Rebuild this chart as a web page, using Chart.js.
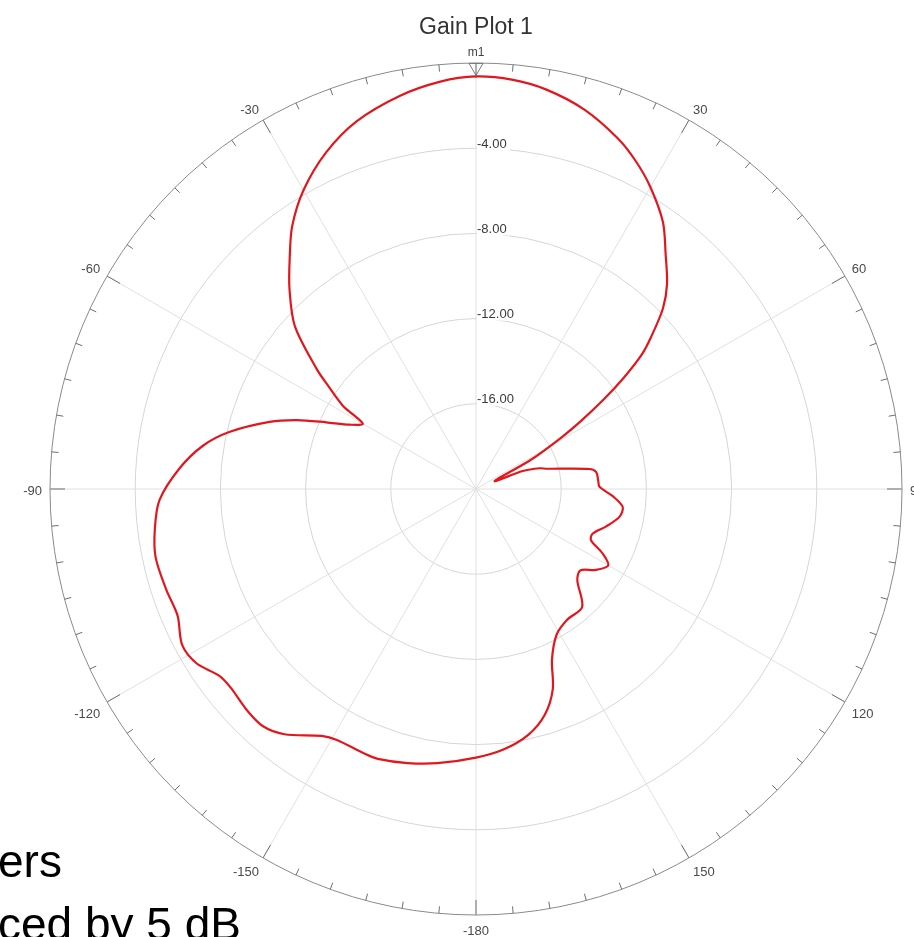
<!DOCTYPE html>
<html><head><meta charset="utf-8">
<script src="https://cdn.jsdelivr.net/npm/chart.js@4.4.1/dist/chart.umd.min.js"></script>
<style>
html,body{margin:0;padding:0;background:#fff;overflow:hidden;}
#wrap{position:relative;width:914px;height:937px;}
#c{display:block;}
.slide{position:absolute;left:-2px;font-family:"Liberation Sans",Arial,sans-serif;font-size:46px;line-height:46px;color:#000;white-space:nowrap;}
</style></head><body>
<div id="wrap"><canvas id="c"></canvas>
<div class="slide" style="top:838px">ers</div>
<div class="slide" style="top:901px">ced by 5 dB</div>
</div>
<script>
// Angle (degrees, clockwise from top) and gain (dB)
const angleDeg = [0,5,10,16,22,26,30,35,39,43,46,49,51,53,55,57,59,62,67,69,72,74,80,82,86,89,93,97,101,106,111,114,117,120,124,128,132,138,145,151,156,159,163,168,174,180,188,194,200,203,209,212,218,222,226,231,234,238,242,247,252,258,263,268,274,279,283,288,291,294,297,300,302,305,307,312,317,321,325,330,336,342,349,355];
const gainDb   = [-0.63,-0.71,-0.96,-1.48,-2.24,-2.88,-3.63,-4.7,-5.85,-6.85,-7.8,-9.1,-10.0,-11.3,-12.7,-14.1,-15.4,-17.1,-19.05,-17.65,-16.85,-16.55,-14.6,-14.3,-14.25,-14.2,-13.57,-13.06,-13.14,-13.64,-14.14,-14.09,-13.33,-12.83,-13.21,-13.79,-13.6,-12.55,-12.52,-12.19,-11.23,-9.94,-8.93,-8.2,-7.7,-7.39,-7.0,-6.74,-6.52,-6.52,-6.53,-6.33,-5.39,-5.03,-5.05,-5.18,-5.09,-4.54,-4.38,-4.78,-4.71,-4.62,-4.81,-5.13,-6.05,-7.02,-8.11,-9.81,-10.98,-12.3,-13.35,-13.86,-12.64,-11.5,-10.63,-8.55,-7.16,-6.1,-4.95,-3.8,-2.7,-1.85,-1.2,-0.8];
const radialTickValues = [-16,-12,-8,-4];
const angleTickLabels = [30,60,90,120,150,-180,-150,-120,-90,-60,-30];
const chartTitle = 'Gain Plot 1';
const markerName = 'm1';
const markerIndex = 0;

const categories = Array.from({length:360}, (_, i) => i);
const series = new Array(360).fill(null);
angleDeg.forEach((a, k) => { series[a] = gainDb[k]; });

const FONT = '"Liberation Sans", Arial, Helvetica, sans-serif';

const polarDecor = {
  id: 'polarDecor',
  beforeDatasetsDraw(chart) {
    const s = chart.scales.r, ctx = chart.ctx, R = s.drawingArea;
    ctx.save();
    ctx.strokeStyle = '#6e6e6e'; ctx.lineWidth = 1;
    for (let i = 0; i < 360; i += 5) {
      const len = (i % 30 === 0) ? 15 : 7;
      const p1 = s.getPointPosition(i, R), p2 = s.getPointPosition(i, R - len);
      ctx.beginPath(); ctx.moveTo(p1.x, p1.y); ctx.lineTo(p2.x, p2.y); ctx.stroke();
    }
    ctx.font = '13px ' + FONT;
    ctx.textBaseline = 'middle'; ctx.textAlign = 'left';
    radialTickValues.forEach(v => {
      const y = s.yCenter - s.getDistanceFromCenterForValue(v) - 4;
      const txt = v.toFixed(2);
      const w = ctx.measureText(txt).width;
      ctx.fillStyle = '#fff'; ctx.fillRect(s.xCenter + 1, y - 6, w + 3, 12);
      ctx.fillStyle = '#3a3a3a'; ctx.fillText(txt, s.xCenter + 1, y);
    });
    ctx.fillStyle = '#4a4a4a';
    angleTickLabels.forEach(v => {
      const i = (v + 360) % 360;
      const p = s.getPointPosition(i, R + 8);
      const a = i * Math.PI / 180, sn = Math.sin(a), cs = Math.cos(a);
      ctx.textAlign = Math.abs(sn) < 0.01 ? 'center' : (sn > 0 ? 'left' : 'right');
      ctx.textBaseline = 'middle';
      const dy = cs < -0.01 ? 8 : (cs > 0.01 ? -3 : 2);
      ctx.fillText(String(v), p.x, p.y + dy);
    });
    ctx.restore();
  },
  afterDatasetsDraw(chart) {
    const ctx = chart.ctx, s = chart.scales.r;
    const pt = chart.getDatasetMeta(0).data[markerIndex];
    ctx.save();
    ctx.strokeStyle = '#777'; ctx.lineWidth = 1;
    ctx.beginPath();
    ctx.moveTo(pt.x, pt.y - 1);
    ctx.lineTo(pt.x - 7, pt.y - 13);
    ctx.lineTo(pt.x + 7, pt.y - 13);
    ctx.closePath(); ctx.stroke();
    ctx.fillStyle = '#444';
    ctx.font = '12px ' + FONT;
    ctx.textAlign = 'center'; ctx.textBaseline = 'middle';
    ctx.fillText(markerName, pt.x, s.yCenter - s.drawingArea - 10);
    ctx.restore();
  }
};

new Chart(document.getElementById('c'), {
  type: 'radar',
  data: {
    labels: categories,
    datasets: [{
      data: series,
      borderColor: '#e3161c',
      borderWidth: 2.2,
      backgroundColor: 'rgba(0,0,0,0)',
      fill: false,
      pointRadius: 0,
      pointHoverRadius: 0,
      tension: 0.3,
      spanGaps: true
    }]
  },
  options: {
    responsive: true,
    maintainAspectRatio: false,
    animation: false,
    events: [],
    layout: { padding: { left: 50, right: 12, top: 0, bottom: 22 } },
    plugins: {
      legend: { display: false },
      tooltip: { enabled: false },
      title: {
        display: true,
        text: chartTitle,
        color: '#333',
        font: { family: FONT, size: 23, weight: 'normal' },
        padding: { top: 14, bottom: 21.4 }
      }
    },
    scales: {
      r: {
        min: -20, max: 0,
        startAngle: 0,
        ticks: { display: false, stepSize: 4 },
        grid: {
          circular: true,
          color: ctx => (ctx.tick && ctx.tick.value === 0) ? '#8a8a8a' : '#d6d6d6',
          lineWidth: 1
        },
        angleLines: {
          display: true,
          color: ctx => (ctx.index % 30 === 0) ? '#e0e0e0' : 'rgba(0,0,0,0)',
          lineWidth: ctx => (ctx.index % 30 === 0) ? 1 : 0
        },
        pointLabels: { display: false }
      }
    }
  },
  plugins: [polarDecor]
});
</script>
</body></html>
